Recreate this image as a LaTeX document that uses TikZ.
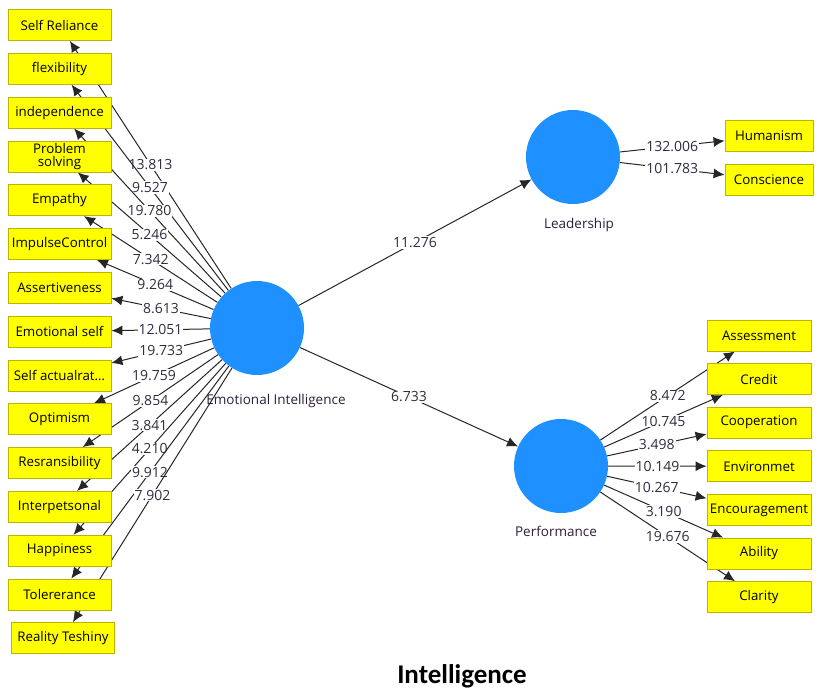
\documentclass[tikz,border=0pt]{standalone}
\usepackage{fontspec}
\setmainfont{Open Sans}
\newfontfamily\titlefont{Carlito}
\usetikzlibrary{arrows.meta,backgrounds}

\definecolor{lvblue}{RGB}{30,144,255}
\definecolor{indyellow}{RGB}{255,255,0}
\definecolor{indborder}{RGB}{190,180,0}
\definecolor{coefgray}{RGB}{45,45,65}
\definecolor{lvtext}{RGB}{45,30,60}

\begin{document}
\begin{tikzpicture}[
              x=1pt,y=-1pt,
              ind/.style={
                  draw=indborder,
                  fill=indyellow,
                  line width=0.8pt,
                  minimum width=103pt,
                  minimum height=31pt,
                  inner sep=1pt,
                  align=center,
                  font=\fontsize{13.3}{12.5}\selectfont,
                },
              lv/.style={
                  circle,
                  fill=lvblue,
                  minimum size=94pt,
                  inner sep=0pt,
                },
              lvname/.style={font=\fontsize{13.5}{14}\selectfont,text=lvtext},
              coef/.style={fill=white,inner sep=1pt,text=coefgray,font=\fontsize{14}{15}\selectfont},
              arr/.style={draw=black!85,line width=1pt,-{Latex[length=11pt,width=10pt]}}
            ]
            \useasboundingbox (0,0) rectangle (818,691);
            % latent variables
            \node[lv] (ei) at (257,328) {};
            \node[lvname] (eilab) at (276,401) {Emotional Intelligence};
            \node[lv] (lead) at (573,157) {};
            \node[lvname] (leadlab) at (579,225) {Leadership};
            \node[lv] (perf) at (561,466) {};
            \node[lvname] (perflab) at (556,531) {Performance};
            % indicators
            \foreach \Name/\Text [count=\i from 0] in {selfrel/Self Reliance,flex/flexibility,indep/independence,
              probsolv/{Problem\\solving},empathy/Empathy,impulse/ImpulseControl,assert/Assertiveness,
              emoself/Emotional self,selfact/{Self actualrat\ldots},optim/Optimism,respons/Resransibility,
              interp/Interpetsonal,happy/Happiness,toler/Tolererance}
            \node[ind] (\Name) at (59.5,{25+43.8*\i}) {\Text};
            \node[ind] (reality) at (63,638) {Reality Teshiny};
            \node[ind,minimum width=88pt] (human) at (769,136) {Humanism};
            \node[ind,minimum width=88pt] (consc) at (769,180) {Conscience};
            \foreach \Name/\Text [count=\i from 0] in {assess/Assessment,credit/Credit,coop/Cooperation,
              environ/Environmet,encour/Encouragement,ability/Ability,clarity/Clarity}
            \node[ind,minimum width=104pt] (\Name) at (759,{335.5+43.6*\i}) {\Text};
            % paths
            \begin{pgfonlayer}{background}
            \foreach \Name/\Value in {selfrel/13.813,flex/9.527,indep/19.780,probsolv/5.246,empathy/7.342,
              impulse/9.264,assert/8.613,emoself/12.051,selfact/19.733,optim/19.759,respons/9.854,
              interp/3.841,happy/4.210,toler/9.912,reality/7.902}
            \path (ei) edge[arr] node[coef] {\Value} (\Name);
            \path (ei) edge[arr] node[coef] {11.276} (lead)
            (ei) edge[arr] node[coef] {6.733} (perf)
            (lead) edge[arr] node[coef] {132.006} (human)
            (lead) edge[arr] node[coef] {101.783} (consc);
            \foreach \Name/\Value in {assess/8.472,credit/10.745,coop/3.498,environ/10.149,
              encour/10.267,ability/3.190,clarity/19.676}
            \path (perf) edge[arr] node[coef] {\Value} (\Name);
            \end{pgfonlayer}
            \node[font=\titlefont\bfseries\fontsize{27}{28}\selectfont] (title) at (462,676) {Intelligence};
          \end{tikzpicture}
\end{document}
